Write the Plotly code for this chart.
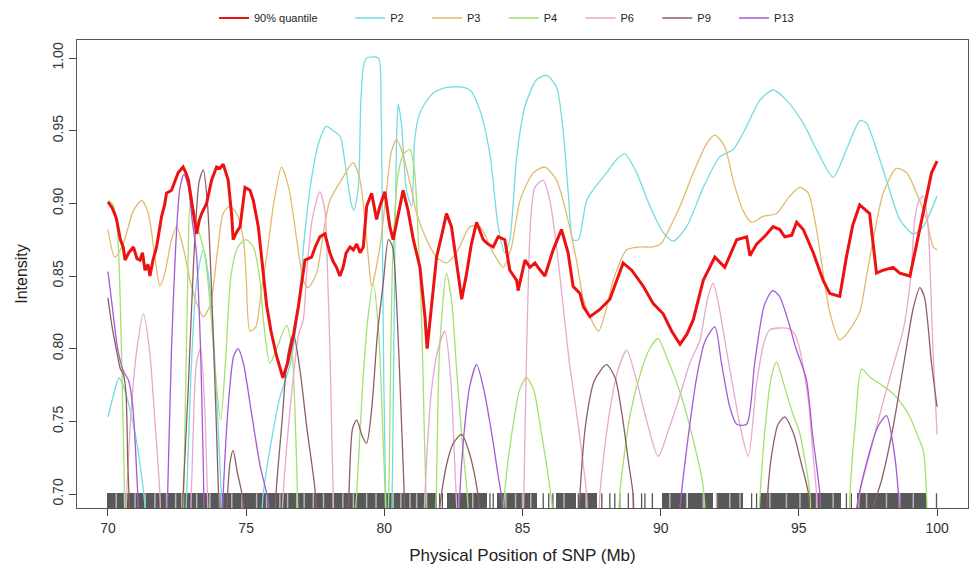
import plotly.graph_objects as go

N = None
# ---------------- data ----------------
q90_x = [70.0, 70.15, 70.3, 70.45, 70.55, 70.62, 70.75, 70.92, 71.05, 71.16, 71.25, 71.34, 71.45, 71.52, 71.63, 71.76,
         71.94, 72.05, 72.12, 72.3, 72.42, 72.54, 72.72, 72.82, 72.91, 73.0, 73.09, 73.21, 73.3, 73.39, 73.57, 73.75,
         73.93, 74.05, 74.17, 74.35, 74.48, 74.53, 74.65, 74.78, 74.96, 75.14, 75.26, 75.44, 75.62, 75.74, 75.9, 76.1,
         76.33, 76.5, 76.7, 76.89, 77.13, 77.37, 77.5, 77.67, 77.85, 78.03, 78.15, 78.27, 78.39, 78.51, 78.62, 78.76,
         78.88, 79.0, 79.12, 79.24, 79.36, 79.54, 79.72, 79.84, 80.02, 80.2, 80.32, 80.5, 80.68, 80.86, 81.05, 81.29,
         81.47, 81.55, 81.7, 81.89, 82.1, 82.25, 82.43, 82.67, 82.8, 82.98, 83.15, 83.34, 83.58, 83.75, 83.94, 84.12,
         84.36, 84.54, 84.79, 84.84, 85.09, 85.27, 85.45, 85.6, 85.81, 86.11, 86.41, 86.65, 86.83, 87.08, 87.2, 87.44,
         87.8, 88.16, 88.4, 88.64, 88.95, 89.37, 89.73, 90.09, 90.4, 90.7, 90.95, 91.18, 91.54, 91.96, 92.32, 92.75,
         93.11, 93.23, 93.47, 93.8, 94.07, 94.31, 94.49, 94.74, 94.92, 95.16, 95.52, 95.88, 96.12, 96.48, 96.72, 96.95,
         97.2, 97.56, 97.81, 98.05, 98.41, 98.65, 99.02, 99.2, 99.5, 99.8, 100.0]
q90_y = [0.901, 0.897, 0.89, 0.875, 0.870, 0.861, 0.866, 0.870, 0.862, 0.861, 0.866, 0.854, 0.858, 0.850, 0.861, 0.870,
         0.891, 0.899, 0.907, 0.909, 0.915, 0.921, 0.925, 0.921, 0.916, 0.905, 0.893, 0.879, 0.888, 0.893, 0.900, 0.916,
         0.925, 0.924, 0.927, 0.916, 0.891, 0.875, 0.880, 0.884, 0.911, 0.909, 0.902, 0.884, 0.852, 0.830, 0.812, 0.795,
         0.780, 0.790, 0.808, 0.829, 0.861, 0.863, 0.870, 0.877, 0.879, 0.866, 0.860, 0.856, 0.850, 0.856, 0.866, 0.870,
         0.868, 0.872, 0.866, 0.870, 0.898, 0.907, 0.889, 0.898, 0.908, 0.884, 0.875, 0.893, 0.909, 0.895, 0.875, 0.856,
         0.822, 0.800, 0.830, 0.863, 0.880, 0.893, 0.884, 0.852, 0.834, 0.852, 0.872, 0.887, 0.875, 0.872, 0.870, 0.877,
         0.875, 0.854, 0.847, 0.840, 0.861, 0.856, 0.859, 0.855, 0.850, 0.868, 0.882, 0.866, 0.843, 0.838, 0.829, 0.822,
         0.827, 0.834, 0.847, 0.859, 0.854, 0.843, 0.831, 0.824, 0.812, 0.803, 0.810, 0.820, 0.847, 0.863, 0.856, 0.875,
         0.877, 0.864, 0.872, 0.878, 0.884, 0.882, 0.877, 0.878, 0.887, 0.882, 0.866, 0.847, 0.838, 0.836, 0.863, 0.885,
         0.899, 0.893, 0.852, 0.854, 0.856, 0.852, 0.850, 0.866, 0.893, 0.921, 0.929]

p2_x = [70.0, 70.2, 70.4, 70.6, 70.8, 71.0, 71.2, 71.35, 71.45, N,
        72.75, 72.85, 73.0, 73.2, 73.45, 73.7, 73.9, 74.1, 74.2, N,
        75.5, 75.62, 75.9, 76.2, 76.6, 76.9, 77.1, 77.35, 77.6, 77.9, 78.15, 78.4, 78.6, 78.8, 78.9, 79.06, 79.15, 79.25,
        79.36, 79.78, 79.88, 79.93, 79.98, 80.05, 80.1, N,
        80.25, 80.3, 80.37, 80.45, 80.5, 80.62, 80.8, 80.99, 81.1, 81.25, 81.41, 81.77, 82.1, 82.37, 82.8, 83.1, 83.46,
        83.82, 84.12, 84.36, 84.54, 84.79, 85.09, 85.51, 85.87, 86.23, 86.47, 86.65, 86.83, 87.02, 87.32, 87.62, 88.04,
        88.4, 88.7, 89.13, 89.61, 90.09, 90.45, 90.94, 91.54, 92.14, 92.62, 93.11, 93.59, 94.07, 94.55, 95.16, 95.64,
        96.24, 96.72, 97.21, 97.45, 97.69, 98.17, 98.65, 99.14, 99.5, 100.0]
p2_y = [0.753, 0.768, 0.780, 0.772, 0.758, 0.740, 0.715, 0.690, 0.660, N,
        0.660, 0.700, 0.780, 0.845, 0.868, 0.840, 0.780, 0.700, 0.660, N,
        0.660, 0.700, 0.735, 0.765, 0.790, 0.830, 0.875, 0.915, 0.940, 0.953, 0.950, 0.946, 0.925, 0.900, 0.895, 0.911,
        0.970, 0.995, 1.000, 1.000, 0.967, 0.880, 0.780, 0.700, 0.660, N,
        0.660, 0.720, 0.850, 0.950, 0.968, 0.955, 0.909, 0.898, 0.944, 0.960, 0.967, 0.976, 0.979, 0.980, 0.980, 0.978,
        0.964, 0.934, 0.884, 0.866, 0.875, 0.932, 0.967, 0.985, 0.988, 0.980, 0.950, 0.909, 0.875, 0.875, 0.902, 0.911,
        0.921, 0.930, 0.934, 0.921, 0.898, 0.880, 0.874, 0.884, 0.911, 0.932, 0.937, 0.953, 0.971, 0.978, 0.971, 0.955,
        0.937, 0.918, 0.937, 0.957, 0.955, 0.944, 0.916, 0.889, 0.879, 0.884, 0.905]

p3_x = [70.0, 70.25, 70.55, 70.92, 71.22, 71.46, 71.7, 71.88, 72.06, 72.3, 72.49, 72.72, 72.97, 73.2, 73.45, 73.7, 73.95,
        74.17, 74.41, 74.66, 74.9, 75.0, 75.14, 75.35, 75.55, 75.74, 76.0, 76.28, 76.55, 76.83, 77.07, 77.25, 77.55,
        77.79, 78.03, 78.51, 78.87, 79.12, 79.42, 79.54, 79.84, 80.08, 80.25, 80.44, 80.62, 80.93, 81.17, 81.53, 81.89,
        82.25, 82.61, 83.1, 83.46, 83.94, 84.3, 84.6, 84.91, 85.39, 85.81, 86.23, 86.59, 86.95, 87.2, 87.44, 87.75, 88.0,
        88.28, 88.77, 89.25, 89.73, 90.0, 90.3, 90.7, 91.18, 91.66, 91.96, 92.32, 92.62, 92.98, 93.29, 93.71, 94.19,
        94.67, 95.04, 95.34, 95.64, 95.88, 96.12, 96.48, 96.8, 97.2, 97.45, 97.69, 98.05, 98.53, 98.9, 99.26, 99.62,
        99.86, 100.0]
p3_y = [0.882, 0.863, 0.872, 0.895, 0.902, 0.893, 0.863, 0.843, 0.852, 0.875, 0.884, 0.870, 0.847, 0.832, 0.822, 0.830,
        0.865, 0.893, 0.898, 0.893, 0.875, 0.850, 0.812, 0.815, 0.840, 0.863, 0.900, 0.925, 0.910, 0.875, 0.847, 0.842,
        0.852, 0.879, 0.902, 0.918, 0.928, 0.916, 0.863, 0.843, 0.870, 0.909, 0.935, 0.944, 0.937, 0.914, 0.893, 0.875,
        0.863, 0.859, 0.866, 0.884, 0.884, 0.866, 0.856, 0.870, 0.902, 0.921, 0.925, 0.916, 0.893, 0.861, 0.834, 0.822,
        0.812, 0.825, 0.847, 0.868, 0.870, 0.870, 0.872, 0.882, 0.898, 0.921, 0.941, 0.947, 0.939, 0.916, 0.895, 0.887,
        0.891, 0.893, 0.905, 0.911, 0.907, 0.882, 0.852, 0.825, 0.806, 0.812, 0.825, 0.850, 0.875, 0.907, 0.924, 0.921,
        0.907, 0.889, 0.870, 0.868]

p4_x = [70.0, 70.15, 70.3, 70.4, 70.5, 70.58, 70.62, N,
        72.7, 72.8, 72.9, 72.98, 73.1, 73.3, 73.5, 73.7, 73.9, 74.08, 74.25, 74.45, 74.7, 75.0, 75.26, 75.5, 75.62,
        75.86, 76.1, 76.46, 76.65, 76.83, 76.9, N,
        78.85, 79.0, 79.2, 79.4, 79.6, 79.8, 79.95, 80.03, 80.08, N,
        80.12, 80.18, 80.3, 80.5, 80.7, 80.93, 81.1, 81.23, 81.35, 81.45, 81.52, 81.56, N,
        81.8, 81.88, 82.0, 82.25, 82.45, 82.6, 82.8, 83.0, 83.1, N,
        84.25, 84.35, 84.6, 84.9, 85.14, 85.4, 85.7, 85.95, 86.08, 86.15, N,
        88.45, 88.52, 88.9, 89.3, 89.6, 89.91, 90.2, 90.7, 91.18, 91.54, 91.65, N,
        93.5, 93.6, 93.8, 94.0, 94.19, 94.45, 94.75, 95.03, 95.25, 95.4, 95.45, N,
        96.8, 96.85, 97.05, 97.27, 97.6, 98.0, 98.41, 98.8, 99.02, 99.3, 99.5, 99.62, 99.66]
p4_y = [0.902, 0.900, 0.890, 0.860, 0.790, 0.720, 0.660, N,
        0.660, 0.760, 0.860, 0.900, 0.895, 0.880, 0.865, 0.830, 0.780, 0.751, 0.790, 0.850, 0.870, 0.875, 0.870, 0.847,
        0.820, 0.790, 0.800, 0.816, 0.800, 0.719, 0.660, N,
        0.660, 0.700, 0.770, 0.820, 0.845, 0.810, 0.740, 0.700, 0.660, N,
        0.660, 0.720, 0.860, 0.920, 0.934, 0.937, 0.921, 0.875, 0.820, 0.740, 0.690, 0.660, N,
        0.660, 0.700, 0.800, 0.852, 0.830, 0.790, 0.740, 0.700, 0.660, N,
        0.660, 0.700, 0.740, 0.772, 0.780, 0.772, 0.740, 0.710, 0.690, 0.660, N,
        0.660, 0.700, 0.755, 0.785, 0.800, 0.807, 0.795, 0.770, 0.737, 0.705, 0.660, N,
        0.660, 0.700, 0.750, 0.780, 0.791, 0.776, 0.757, 0.742, 0.720, 0.700, 0.660, N,
        0.660, 0.700, 0.750, 0.786, 0.780, 0.775, 0.769, 0.760, 0.753, 0.740, 0.730, 0.700, 0.660]

p6_x = [70.6, 70.68, 70.85, 71.05, 71.28, 71.5, 71.7, 71.88, 71.92, N,
        72.95, 73.05, 73.2, 73.35, 73.5, 73.6, 73.65, N,
        76.25, 76.34, 76.6, 76.9, 77.07, 77.19, 77.4, 77.67, 77.85, 77.95, 78.03, 78.1, 78.15, 78.2, N,
        81.4, 81.47, 81.7, 81.95, 82.19, 82.4, 82.55, 82.62, 82.66, N,
        85.0, 85.05, 85.15, 85.3, 85.45, 85.75, 85.99, 86.23, 86.41, 86.7, 87.0, 87.2, 87.32, 87.38, N,
        87.75, 87.8, 88.1, 88.45, 88.77, 89.1, 89.5, 89.91, 90.3, 90.7, 91.05, 91.42, 91.7, 91.9, 92.1, 92.38, 92.65,
        92.87, 93.17, 93.47, 93.75, 93.95, 94.61, 94.85, 95.04, 95.34, 95.5, 95.64, 95.7, N,
        97.15, 97.2, 97.6, 98.0, 98.41, 98.8, 99.05, 99.2, 99.35, 99.5, 99.65, 99.74, 99.85, 100.0]
p6_y = [0.660, 0.700, 0.760, 0.800, 0.824, 0.800, 0.750, 0.700, 0.660, N,
        0.660, 0.720, 0.790, 0.800, 0.760, 0.700, 0.660, N,
        0.660, 0.700, 0.760, 0.810, 0.820, 0.852, 0.890, 0.908, 0.895, 0.850, 0.800, 0.740, 0.700, 0.660, N,
        0.660, 0.700, 0.770, 0.800, 0.812, 0.780, 0.720, 0.690, 0.660, N,
        0.660, 0.700, 0.800, 0.890, 0.911, 0.916, 0.902, 0.870, 0.840, 0.790, 0.750, 0.720, 0.700, 0.660, N,
        0.660, 0.700, 0.750, 0.785, 0.799, 0.780, 0.750, 0.726, 0.745, 0.768, 0.790, 0.806, 0.835, 0.845, 0.830, 0.799,
        0.770, 0.747, 0.726, 0.776, 0.805, 0.813, 0.814, 0.810, 0.799, 0.765, 0.730, 0.700, 0.660, N,
        0.660, 0.700, 0.730, 0.760, 0.788, 0.815, 0.850, 0.890, 0.902, 0.905, 0.890, 0.860, 0.800, 0.741]

p9_x = [70.0, 70.15, 70.31, 70.45, 70.55, 70.65, 70.72, 70.78, 70.82, N,
        72.65, 72.72, 72.9, 73.1, 73.3, 73.45, 73.6, 73.75, 73.9, 74.0, 74.05, N,
        74.25, 74.3, 74.42, 74.53, 74.68, 74.85, 74.95, 75.0, N,
        76.0, 76.08, 76.3, 76.5, 76.71, 76.95, 77.2, 77.45, 77.55, 77.6, N,
        78.65, 78.72, 78.85, 79.0, 79.2, 79.36, 79.55, 79.75, 79.96, 80.15, 80.3, 80.45, 80.6, 80.72, 80.78, N,
        81.95, 82.0, 82.25, 82.5, 82.8, 83.05, 83.3, 83.45, 83.5, N,
        87.0, 87.08, 87.3, 87.6, 88.04, 88.35, 88.6, 88.85, 89.0, 89.05, N,
        93.75, 93.83, 94.0, 94.25, 94.49, 94.8, 95.1, 95.35, 95.42, N,
        97.6, 97.69, 98.0, 98.4, 98.8, 99.14, 99.38, 99.55, 99.8, 100.0]
p9_y = [0.835, 0.815, 0.799, 0.786, 0.783, 0.770, 0.720, 0.690, 0.660, N,
        0.660, 0.700, 0.770, 0.860, 0.915, 0.923, 0.900, 0.840, 0.760, 0.700, 0.660, N,
        0.660, 0.690, 0.722, 0.730, 0.715, 0.700, 0.680, 0.660, N,
        0.660, 0.700, 0.750, 0.795, 0.810, 0.785, 0.745, 0.710, 0.690, 0.660, N,
        0.660, 0.700, 0.745, 0.751, 0.740, 0.735, 0.760, 0.810, 0.845, 0.875, 0.870, 0.830, 0.760, 0.700, 0.660, N,
        0.660, 0.690, 0.720, 0.735, 0.741, 0.730, 0.710, 0.690, 0.660, N,
        0.660, 0.700, 0.750, 0.778, 0.789, 0.780, 0.755, 0.720, 0.700, 0.660, N,
        0.660, 0.690, 0.725, 0.748, 0.753, 0.742, 0.720, 0.700, 0.660, N,
        0.660, 0.690, 0.710, 0.745, 0.790, 0.828, 0.842, 0.835, 0.790, 0.760]

p13_x = [70.0, 70.15, 70.35, 70.55, 70.75, 70.9, 71.0, 71.1, 71.15, N,
         72.1, 72.16, 72.3, 72.45, 72.6, 72.75, 72.9, 73.05, 73.2, 73.35, 73.45, 73.5, N,
         74.1, 74.17, 74.35, 74.55, 74.71, 74.9, 75.2, 75.5, 75.8, 75.9, N,
         82.65, 82.73, 82.9, 83.1, 83.34, 83.6, 83.9, 84.1, 84.3, 84.35, N,
         90.65, 90.7, 91.0, 91.3, 91.6, 91.96, 92.2, 92.5, 92.75, 93.11, 93.4, 93.75, 94.05, 94.3, 94.6, 94.9, 95.27,
         95.5, 95.76, 95.82, N,
         97.05, 97.09, 97.5, 97.85, 98.17, 98.4, 98.6, 98.65]
p13_y = [0.853, 0.830, 0.800, 0.785, 0.778, 0.760, 0.730, 0.690, 0.660, N,
         0.660, 0.700, 0.800, 0.870, 0.910, 0.920, 0.912, 0.888, 0.866, 0.800, 0.720, 0.660, N,
         0.660, 0.700, 0.760, 0.795, 0.800, 0.790, 0.755, 0.720, 0.695, 0.660, N,
         0.660, 0.700, 0.745, 0.775, 0.789, 0.772, 0.740, 0.715, 0.690, 0.660, N,
         0.660, 0.690, 0.740, 0.780, 0.805, 0.815, 0.790, 0.760, 0.748, 0.748, 0.790, 0.830, 0.840, 0.836, 0.820, 0.800,
         0.779, 0.740, 0.700, 0.660, N,
         0.660, 0.690, 0.725, 0.746, 0.754, 0.735, 0.700, 0.660]

# SNP rug: dense stretches (start, end), lighter gaps inside them, and isolated SNPs (Mb)
rug_block_start = [69.97, 82.25, 84.06, 86.23, 87.08, 90.05, 91.0, 92.0, 93.59, 97.09]
rug_block_end = [81.89, 83.70, 85.51, 86.95, 87.68, 90.90, 91.9, 92.98, 96.54, 99.62]
rug_light = [70.3, 70.62, 70.98, 71.35, 71.7, 72.12, 72.45, 72.67, 73.21, 73.69, 74.05, 74.48, 74.85, 75.38,
             75.74, 76.22, 76.5, 76.83, 77.1, 77.43, 77.8, 78.15, 78.5, 78.88, 79.36, 79.7, 80.32, 80.6, 80.93,
             81.17, 81.53, 82.7, 83.2, 84.4, 84.75, 85.0, 85.3, 86.5, 87.3, 90.33, 90.94, 91.54, 92.02, 92.5,
             92.87, 93.95, 94.55, 95.04, 95.64, 96.24, 97.45, 98.17, 98.65, 99.14]
rug_single = [82.0, 82.1, 83.82, 83.94, 85.75, 85.95, 86.1, 87.02, 87.87, 88.16, 88.34, 88.52, 88.83, 89.01,
              89.31, 89.43, 89.7, 93.29, 93.47, 96.72, 96.9, 99.98]

x_ticks = [70, 75, 80, 85, 90, 95, 100]
y_ticks = [0.70, 0.75, 0.80, 0.85, 0.90, 0.95, 1.00]

# ---------------- figure ----------------
# the page body has an 8 px margin, so the figure is 8 px smaller than the window
W, H = 969, 558
Y0, Y1 = 0.6904, 0.7005
PAD_LONG = "\u00a0" * 9
PAD = "\u00a0" * 6
fig = go.Figure()

fig.add_trace(go.Bar(
    x=[(s + e) / 2 for s, e in zip(rug_block_start, rug_block_end)],
    y=[Y1 - Y0] * len(rug_block_start), base=Y0,
    width=[e - s for s, e in zip(rug_block_start, rug_block_end)],
    marker=dict(color="#585858", line=dict(width=0)), showlegend=False, hoverinfo="skip"))


def rug_xy(pos):
    xs, ys = [], []
    for p in pos:
        xs += [p, p, None]
        ys += [Y0, Y1, None]
    return xs, ys


lx, ly = rug_xy(rug_light)
fig.add_trace(go.Scatter(x=lx, y=ly, mode="lines", line=dict(color="#b4b4b4", width=1.5),
                         showlegend=False, hoverinfo="skip"))
sx, sy = rug_xy(rug_single)
fig.add_trace(go.Scatter(x=sx, y=sy, mode="lines", line=dict(color="#555555", width=1.3),
                         showlegend=False, hoverinfo="skip"))

series = [
    ("P2" + PAD, p2_x, p2_y, "#72dde0"),
    ("P3" + PAD, p3_x, p3_y, "#e2ba6e"),
    ("P4" + PAD, p4_x, p4_y, "#a6e06e"),
    ("P6" + PAD, p6_x, p6_y, "#e9a8cc"),
    ("P9" + PAD, p9_x, p9_y, "#8e5e66"),
    ("P13", p13_x, p13_y, "#a45ad4"),
]
thin = []
for name, xs, ys, col in series:
    thin.append(go.Scatter(x=xs, y=ys, mode="lines", name=name,
                           line=dict(color=col, width=1.3, shape="spline", smoothing=0.7),
                           connectgaps=False))

fig.add_trace(go.Scatter(x=[None], y=[None], mode="lines", name="90% quantile" + PAD_LONG,
                         line=dict(color="#ee1111", width=2)))
for t in thin:
    fig.add_trace(t)
fig.add_trace(go.Scatter(x=q90_x, y=q90_y, mode="lines", name="90% quantile",
                         line=dict(color="#ee1111", width=3), showlegend=False))

fig.update_layout(
    width=W, height=H,
    margin=dict(l=69, r=9, t=32, b=58, autoexpand=False),
    paper_bgcolor="white", plot_bgcolor="white",
    font=dict(family="Liberation Sans, Arial, sans-serif", color="#333333"),
    showlegend=True,
    legend=dict(orientation="h", xref="container", yref="container",
                x=206 / W, xanchor="left", y=1 - 10 / H, yanchor="middle",
                font=dict(size=11, color="#222222"), itemwidth=30,
                bgcolor="rgba(0,0,0,0)"),
    bargap=0,
)
fig.update_xaxes(range=[68.88, 101.12], tickvals=x_ticks, ticks="outside", ticklen=7, tickcolor="#444",
                 showline=True, mirror=True, linecolor="#555", linewidth=1, showgrid=False, zeroline=False,
                 automargin=False,
                 tickfont=dict(size=14, color="#333"),
                 title=dict(text="Physical Position of SNP (Mb)", font=dict(size=17, color="#222"), standoff=14))
fig.update_yaxes(range=[0.6904, 1.0124], tickvals=y_ticks, tickformat=".2f", ticks="outside", ticklen=7,
                 tickcolor="#444", tickangle=-90, automargin=False,
                 showline=True, mirror=True, linecolor="#555", linewidth=1, showgrid=False, zeroline=False,
                 tickfont=dict(size=14, color="#333"),
                 title=dict(text="Intensity", font=dict(size=16, color="#222"), standoff=18))

fig.write_html("out.html")
